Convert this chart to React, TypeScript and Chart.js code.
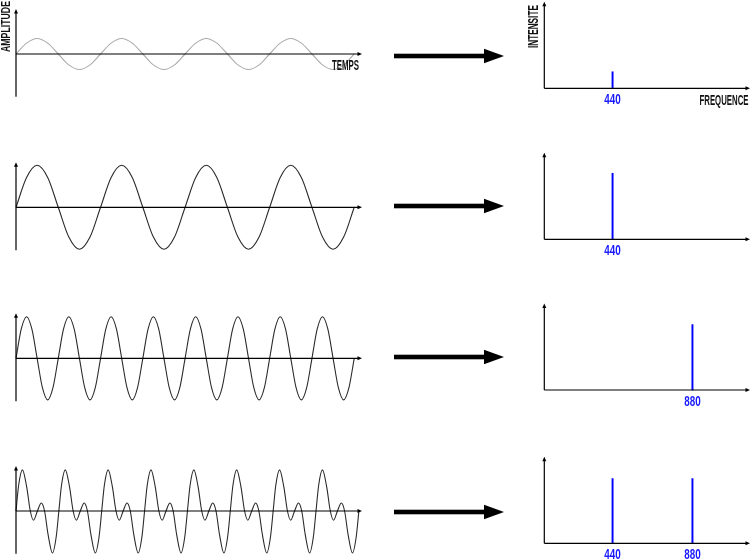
import React, { useEffect, useRef } from "react";
import { Chart, registerables } from "chart.js";

Chart.register(...registerables);

// ---------------- data ----------------
// time (ms) sampled at each eighth of a 440 Hz period
const TIME_440 = [
  0, 0.284, 0.568, 0.852, 1.136, 1.42, 1.705, 1.989, 2.273, 2.557, 2.841, 3.125, 3.409, 3.693, 3.977, 4.261,
  4.545, 4.83, 5.114, 5.398, 5.682, 5.966, 6.25, 6.534, 6.818, 7.102, 7.386, 7.67, 7.955, 8.239, 8.523, 8.807, 9.091,
];
// row 1: quiet 440 Hz (grey)
const WAVE_QUIET_440 = [
  0, 0.26, 0.37, 0.26, 0, -0.26, -0.37, -0.26, 0, 0.26, 0.37, 0.26, 0, -0.26, -0.37, -0.26,
  0, 0.26, 0.37, 0.26, 0, -0.26, -0.37, -0.26, 0, 0.26, 0.37, 0.26, 0, -0.26, -0.37, -0.26, 0,
];
// row 2: loud 440 Hz
const WAVE_LOUD_440 = [
  0, 0.71, 1, 0.71, 0, -0.71, -1, -0.71, 0, 0.71, 1, 0.71, 0, -0.71, -1, -0.71,
  0, 0.71, 1, 0.71, 0, -0.71, -1, -0.71, 0, 0.71, 1, 0.71, 0, -0.71, -1, -0.71, 0,
];

// time (ms) sampled at each eighth of an 880 Hz period
const TIME_880 = [
  0, 0.142, 0.284, 0.426, 0.568, 0.71, 0.852, 0.994,
  1.136, 1.278, 1.42, 1.563, 1.705, 1.847, 1.989, 2.131,
  2.273, 2.415, 2.557, 2.699, 2.841, 2.983, 3.125, 3.267,
  3.409, 3.551, 3.693, 3.835, 3.977, 4.119, 4.261, 4.403,
  4.545, 4.688, 4.83, 4.972, 5.114, 5.256, 5.398, 5.54,
  5.682, 5.824, 5.966, 6.108, 6.25, 6.392, 6.534, 6.676,
  6.818, 6.96, 7.102, 7.244, 7.386, 7.528, 7.67, 7.813,
  7.955, 8.097, 8.239, 8.381, 8.523, 8.665, 8.807, 8.949,
  9.091,
];
// row 3: 880 Hz
const WAVE_880 = [
  0, 0.7, 0.99, 0.7, 0, -0.7, -0.99, -0.7,
  0, 0.7, 0.99, 0.7, 0, -0.7, -0.99, -0.7,
  0, 0.7, 0.99, 0.7, 0, -0.7, -0.99, -0.7,
  0, 0.7, 0.99, 0.7, 0, -0.7, -0.99, -0.7,
  0, 0.7, 0.99, 0.7, 0, -0.7, -0.99, -0.7,
  0, 0.7, 0.99, 0.7, 0, -0.7, -0.99, -0.7,
  0, 0.7, 0.99, 0.7, 0, -0.7, -0.99, -0.7,
  0, 0.7, 0.99, 0.7, 0, -0.7, -0.99, -0.7,
  0,
];

// row 4: mixed tone (big lobes, small bumps and zero crossings)
const TIME_MIX = [
  0, 0.072, 0.172, 0.288, 0.384, 0.472, 0.576, 0.68, 0.768, 0.864, 0.98, 1.08,
  1.152, 1.224, 1.324, 1.44, 1.536, 1.624, 1.728, 1.832, 1.92, 2.016, 2.132, 2.232,
  2.304, 2.376, 2.476, 2.592, 2.688, 2.776, 2.88, 2.984, 3.072, 3.168, 3.284, 3.384,
  3.456, 3.528, 3.628, 3.744, 3.84, 3.928, 4.032, 4.136, 4.224, 4.32, 4.436, 4.536,
  4.608, 4.68, 4.78, 4.896, 4.992, 5.08, 5.184, 5.288, 5.376, 5.472, 5.588, 5.688,
  5.76, 5.832, 5.932, 6.048, 6.144, 6.232, 6.336, 6.44, 6.528, 6.624, 6.74, 6.84,
  6.912, 6.984, 7.084, 7.2, 7.296, 7.384, 7.488, 7.592, 7.68, 7.776, 7.892, 7.992,
  8.064, 8.136, 8.236, 8.352, 8.448, 8.536, 8.64, 8.744, 8.832, 8.928, 9.044, 9.144,
  9.216,
];
const WAVE_MIX = [
  0, 0.62, 0.98, 0.57, 0, -0.22, 0, 0.19, 0, -0.57, -1, -0.62,
  0, 0.62, 0.98, 0.57, 0, -0.22, 0, 0.19, 0, -0.57, -1, -0.62,
  0, 0.62, 0.98, 0.57, 0, -0.22, 0, 0.19, 0, -0.57, -1, -0.62,
  0, 0.62, 0.98, 0.57, 0, -0.22, 0, 0.19, 0, -0.57, -1, -0.62,
  0, 0.62, 0.98, 0.57, 0, -0.22, 0, 0.19, 0, -0.57, -1, -0.62,
  0, 0.62, 0.98, 0.57, 0, -0.22, 0, 0.19, 0, -0.57, -1, -0.62,
  0, 0.62, 0.98, 0.57, 0, -0.22, 0, 0.19, 0, -0.57, -1, -0.62,
  0, 0.62, 0.98, 0.57, 0, -0.22, 0, 0.19, 0, -0.57, -1, -0.62,
  0,
];

// spectra (Hz, intensity)
const SPEC1_FREQ = [440];
const SPEC1_INT = [0.25];
const SPEC2_FREQ = [440];
const SPEC2_INT = [1.0];
const SPEC3_FREQ = [880];
const SPEC3_INT = [0.99];
const SPEC4_FREQ = [440, 880];
const SPEC4_INT = [0.98, 0.98];

// axis titles
const TITLE_AMPLITUDE = "AMPLITUDE";
const TITLE_TEMPS = "TEMPS";
const TITLE_INTENSITE = "INTENSITE";
const TITLE_FREQUENCE = "FREQUENCE";

// axis ranges
const TIME_MIN = 0;
const TIME_MAX = 9.3;
const AMP_MIN = -1.02;
const AMP_MAX = 1.07;
const FREQ_MIN = 64;
const FREQ_MAX = 1197;
const INT_MIN = 0;
const INT_MAX = 1.31;

// ---------------- layout / style ----------------
const W = 751;
const H = 560;
const WAVE_LEFT = 16;
const WAVE_RIGHT = 362;
const SPEC_LEFT = 544.3;
const SPEC_RIGHT = 750;
const SPEC_HEIGHT = 86.5;
const FONT_FAMILY = '"Liberation Sans", Arial, sans-serif';
const LABEL_BLUE = "#1a1aff";
const SPIKE_BLUE = "#0000ff";

type Row = {
  time: number[];
  wave: number[];
  waveColor: string;
  waveAxisY: number;
  freq: number[];
  intensity: number[];
  specAxisY: number;
  arrowY: number;
  titles: boolean;
};

const ROWS: Row[] = [
  { time: TIME_440, wave: WAVE_QUIET_440, waveColor: "#ababab", waveAxisY: 54, freq: SPEC1_FREQ, intensity: SPEC1_INT, specAxisY: 88.3, arrowY: 56, titles: true },
  { time: TIME_440, wave: WAVE_LOUD_440, waveColor: "#2a2a2a", waveAxisY: 207.3, freq: SPEC2_FREQ, intensity: SPEC2_INT, specAxisY: 239.3, arrowY: 206, titles: false },
  { time: TIME_880, wave: WAVE_880, waveColor: "#2a2a2a", waveAxisY: 358.3, freq: SPEC3_FREQ, intensity: SPEC3_INT, specAxisY: 390, arrowY: 357, titles: false },
  { time: TIME_MIX, wave: WAVE_MIX, waveColor: "#2a2a2a", waveAxisY: 511, freq: SPEC4_FREQ, intensity: SPEC4_INT, specAxisY: 543.3, arrowY: 512, titles: false },
];

function drawText(
  ctx: CanvasRenderingContext2D,
  text: string,
  x: number,
  y: number,
  targetWidth: number,
  size: number,
  align: CanvasTextAlign,
  color: string,
  rotate: boolean
) {
  ctx.save();
  ctx.font = `bold ${size}px ${FONT_FAMILY}`;
  const w = ctx.measureText(text).width || 1;
  const sx = targetWidth / w;
  ctx.translate(x, y);
  if (rotate) ctx.rotate(-Math.PI / 2);
  ctx.scale(sx, 1);
  ctx.textAlign = align;
  ctx.textBaseline = "alphabetic";
  ctx.fillStyle = color;
  ctx.fillText(text, 0, 0);
  ctx.restore();
}

function drawAxes(chart: any) {
  const { ctx, chartArea: a, scales } = chart;
  const ox = scales.x.getPixelForValue(scales.x.min);
  const oy = scales.y.getPixelForValue(0);
  ctx.save();
  ctx.strokeStyle = "#000";
  ctx.fillStyle = "#000";
  ctx.lineWidth = 1.2;
  ctx.beginPath();
  ctx.moveTo(ox, a.bottom);
  ctx.lineTo(ox, a.top + 3);
  ctx.moveTo(ox, oy);
  ctx.lineTo(a.right - 3, oy);
  ctx.stroke();
  ctx.beginPath();
  ctx.moveTo(ox, a.top);
  ctx.lineTo(ox - 2, a.top + 4.5);
  ctx.lineTo(ox + 2, a.top + 4.5);
  ctx.closePath();
  ctx.fill();
  ctx.beginPath();
  ctx.moveTo(a.right, oy);
  ctx.lineTo(a.right - 4.5, oy - 2);
  ctx.lineTo(a.right - 4.5, oy + 2);
  ctx.closePath();
  ctx.fill();
  ctx.restore();
  return { ox, oy, a };
}

function waveConfig(row: Row): any {
  const plugin = {
    id: "waveAxes",
    afterDatasetsDraw(chart: any) {
      const { ox, oy, a } = drawAxes(chart);
      if (row.titles) {
        drawText(chart.ctx, TITLE_AMPLITUDE, ox - 6, oy - 2, 51, 12.5, "left", "#111", true);
        drawText(chart.ctx, TITLE_TEMPS, a.right - 3, oy + 16, 27, 14, "right", "#111", false);
      }
    },
  };
  const top = row.waveAxisY - AMP_MAX * 42;
  const bottom = row.waveAxisY - AMP_MIN * 42;
  return {
    type: "line",
    data: {
      datasets: [
        {
          data: row.time.map((t, i) => ({ x: t, y: row.wave[i] })),
          borderColor: row.waveColor,
          borderWidth: 1.1,
          pointRadius: 0,
          cubicInterpolationMode: "monotone",
          fill: false,
          clip: 6,
        },
      ],
    },
    options: {
      animation: false,
      responsive: false,
      events: [],
      layout: { padding: { left: WAVE_LEFT, right: W - WAVE_RIGHT, top, bottom: H - bottom } },
      plugins: { legend: { display: false }, tooltip: { enabled: false } },
      scales: {
        x: { type: "linear", display: false, min: TIME_MIN, max: TIME_MAX },
        y: { type: "linear", display: false, min: AMP_MIN, max: AMP_MAX },
      },
    },
    plugins: [plugin],
  };
}

function specConfig(row: Row): any {
  const plugin = {
    id: "specAxes",
    afterDatasetsDraw(chart: any) {
      const { ox, oy, a } = drawAxes(chart);
      const xs = chart.scales.x;
      row.freq.forEach((f) => {
        drawText(chart.ctx, String(f), xs.getPixelForValue(f), oy + 16, 16.5, 14, "center", LABEL_BLUE, false);
      });
      if (row.titles) {
        drawText(chart.ctx, TITLE_INTENSITE, ox - 6, a.top + 46.3, 43, 14.5, "left", "#111", true);
        drawText(chart.ctx, TITLE_FREQUENCE, a.right - 1.5, oy + 16.7, 49, 14, "right", "#111", false);
      }
    },
  };
  const top = row.specAxisY - SPEC_HEIGHT;
  return {
    type: "bar",
    data: {
      datasets: [
        {
          data: row.freq.map((f, i) => ({ x: f, y: row.intensity[i] })),
          backgroundColor: SPIKE_BLUE,
          borderWidth: 0,
          barThickness: 1.3,
          clip: false,
        },
      ],
    },
    options: {
      animation: false,
      responsive: false,
      events: [],
      layout: { padding: { left: SPEC_LEFT, right: W - SPEC_RIGHT, top, bottom: H - row.specAxisY } },
      plugins: { legend: { display: false }, tooltip: { enabled: false } },
      scales: {
        x: { type: "linear", display: false, min: FREQ_MIN, max: FREQ_MAX, offset: false },
        y: { type: "linear", display: false, min: INT_MIN, max: INT_MAX },
      },
    },
    plugins: [plugin],
  };
}

function ChartLayer({ make }: { make: () => any }) {
  const ref = useRef<HTMLCanvasElement>(null);
  useEffect(() => {
    const chart = new Chart(ref.current as HTMLCanvasElement, make());
    return () => chart.destroy();
  }, []);
  return (
    <canvas
      ref={ref}
      width={W}
      height={H}
      style={{ position: "absolute", left: 0, top: 0, width: W, height: H }}
    />
  );
}

export default function App() {
  return (
    <div style={{ position: "absolute", left: 0, top: 0, width: W, height: H, background: "#fff", overflow: "hidden" }}>
      {ROWS.map((row, i) => (
        <ChartLayer key={"w" + i} make={() => waveConfig(row)} />
      ))}
      {ROWS.map((row, i) => (
        <ChartLayer key={"s" + i} make={() => specConfig(row)} />
      ))}
      <svg width={W} height={H} style={{ position: "absolute", left: 0, top: 0 }}>
        {ROWS.map((row, i) => (
          <g key={"a" + i} fill="#000">
            <rect x={394} y={row.arrowY - 2.3} width={92} height={4.6} />
            <polygon points={`484,${row.arrowY - 7.3} 504,${row.arrowY} 484,${row.arrowY + 7.3}`} />
          </g>
        ))}
      </svg>
    </div>
  );
}
